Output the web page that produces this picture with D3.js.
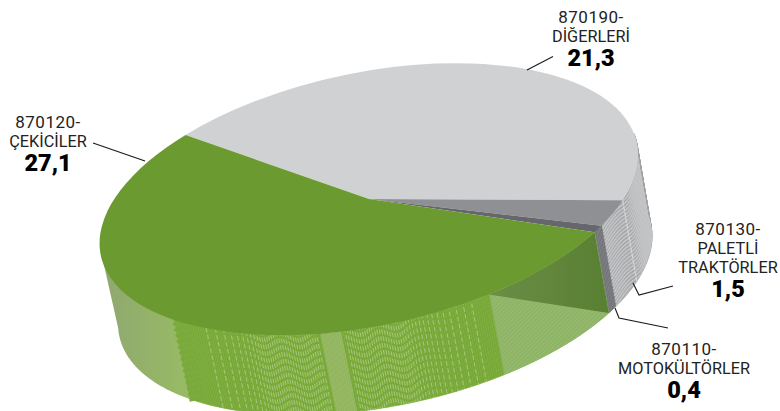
<!DOCTYPE html>
<html lang="tr">
<head>
<meta charset="utf-8">
<title>Traktör ihracatı</title>
<script src="https://cdn.jsdelivr.net/npm/d3@7/dist/d3.min.js"></script>
<style>
  html, body { margin: 0; background: #fff; }
  svg { display: block; }
  text { font-family: Roboto, sans-serif; text-anchor: middle; }
  .code { font-size: 17px; font-weight: 400; fill: #222; letter-spacing: 0.5px; }
  .name { font-size: 16.3px; font-weight: 400; fill: #222; }
  .value { font-size: 23.5px; font-weight: 900; fill: #000; }
</style>
</head>
<body>
<svg id="chart" width="780" height="411" viewBox="0 0 780 411"></svg>
<script>
// Slice order runs clockwise from the grey/green boundary at the back of the disc.
const codes = ["870190-", "870130-", "870110-", "870120-"];
const names = [["DİĞERLERİ"], ["PALETLİ", "TRAKTÖRLER"], ["MOTOKÜLTÖRLER"], ["ÇEKİCİLER"]];
const values = [21.3, 1.5, 0.4, 27.1];
const valueLabels = ["21,3", "1,5", "0,4", "27,1"];
const topColors = ["#d0d1d3", "#8f9094", "#66676c", "#6b9b30"];

// Projection of the unit disc onto the tilted top face.
const disc = { a: 269, b: -44, d: 128.6, cx: 369, cy: 199 };
const drop = { x: 16, y: 81, shrink: 0.9926 };
const startAngle = -43 * Math.PI / 180;

const svg = d3.select("#chart");
const defs = svg.append("defs");

const arcs = d3.pie().sort(null).startAngle(startAngle).endAngle(startAngle + 2 * Math.PI)(values);

// a is in d3.arc convention: 0 at twelve o'clock, growing clockwise.
const topPoint = a => {
  const u = Math.sin(a), v = -Math.cos(a);
  return [disc.cx + disc.a * u, disc.cy + disc.b * u + disc.d * v];
};
const bottomPoint = a => {
  const u = Math.sin(a) * drop.shrink, v = -Math.cos(a) * drop.shrink;
  return [disc.cx + drop.x + disc.a * u, disc.cy + drop.y + disc.b * u + disc.d * v];
};
const wallPoint = (a, t) => {
  const p = topPoint(a), q = bottomPoint(a);
  return [p[0] + (q[0] - p[0]) * t, p[1] + (q[1] - p[1]) * t];
};
// Angle on the front half of the rim that sits above a given x.
const frontAngle = x => {
  const u = (x - disc.cx) / disc.a;
  return Math.PI - Math.asin(Math.max(-1, Math.min(1, u)));
};

function greenWallColor(x) {
  if (x < 320) return "#78a938";
  if (x < 342) return "#93b660";
  if (x < 490) return "#78a938";
  return "#8db363";
}

const walls = svg.append("g");
const step = Math.PI / 360;

// Only the front of the wall is visible; the rear part would overlap it.
const frontFrom = 80 * Math.PI / 180;
const frontTo = 268 * Math.PI / 180;
const leftBandEnd = frontAngle(172);

function wallStrip(a0, a1, color) {
  const pts = [topPoint(a0), topPoint(a1), bottomPoint(a1), bottomPoint(a0)];
  walls.append("path")
    .attr("d", d3.line()(pts) + "Z")
    .attr("fill", color).attr("stroke", color).attr("stroke-width", 0.6);
}

// Side wall, built from narrow strips so its shade can follow the rim.
arcs.forEach((s, i) => {
  const from = Math.max(s.startAngle, frontFrom);
  const to = i === 3 ? leftBandEnd : s.endAngle;
  for (let a = from; a < to; a += step) {
    const next = Math.min(a + step, to);
    const x = topPoint(a)[0];
    let color;
    if (i === 3) color = greenWallColor(x);
    else if (i === 2) color = "#75767b";
    else color = "#a2a3a6";
    wallStrip(a, next, color);
  }
});

// Smooth fade across the far-left stretch of the green wall.
const fade = defs.append("linearGradient").attr("id", "fade")
  .attr("gradientUnits", "userSpaceOnUse")
  .attr("x1", 100).attr("x2", 185).attr("y1", 0).attr("y2", 0);
fade.append("stop").attr("offset", 0).attr("stop-color", "#8fa673");
fade.append("stop").attr("offset", 0.35).attr("stop-color", "#92ae6c");
fade.append("stop").attr("offset", 1).attr("stop-color", "#98ba65");
const fadePoints = [];
for (let a = leftBandEnd - step; a <= frontTo; a += step) fadePoints.push(topPoint(a));
for (let a = frontTo; a >= leftBandEnd - step; a -= step) fadePoints.push(bottomPoint(a));
svg.append("path").attr("d", d3.line()(fadePoints) + "Z").attr("fill", "url(#fade)");

// Fine diagonal hatch on the lit part of the green wall.
const hatch = defs.append("pattern").attr("id", "hatch")
  .attr("width", 3).attr("height", 3).attr("patternUnits", "userSpaceOnUse")
  .attr("patternTransform", "rotate(45)");
hatch.append("rect").attr("width", 3).attr("height", 3).attr("fill", "#8db363");
hatch.append("rect").attr("width", 1.2).attr("height", 3).attr("fill", "#97bb72");

const greenArc = arcs[3];
const tip = greenArc.startAngle;
const litEnd = frontAngle(490);
const litPoints = [];
for (let a = tip; a <= litEnd; a += step) litPoints.push(topPoint(a));
for (let a = litEnd; a >= tip; a -= step) litPoints.push(bottomPoint(a));
svg.append("path").attr("d", d3.line()(litPoints) + "Z").attr("fill", "url(#hatch)");

// Dashed ribs on the green wall, packed tighter toward the middle.
const ribs = svg.append("g").attr("fill", "none").attr("stroke", "#abc981").attr("stroke-width", 0.9);
function rib(x, offset) {
  const a = frontAngle(x);
  ribs.append("path")
    .attr("d", d3.line()([topPoint(a), bottomPoint(a)]))
    .attr("stroke-dasharray", "4.5 2.5")
    .attr("stroke-dashoffset", offset);
}
let ribIndex = 0;
for (let x = 206; x < 318; ) {
  rib(x, 3.5 * Math.sin(ribIndex * 0.42));
  x += Math.max(2.4, 9.5 - (x - 206) * 0.14);
  ribIndex++;
}
for (let x = 345; x < 472; ) {
  rib(x, 3.5 * Math.sin(ribIndex * 0.42));
  x += Math.max(2.4, 2.4 + Math.max(0, x - 400) * 0.09);
  ribIndex++;
}

// Short band of broad cross stripes at the left end of the ribs.
const bandAngle = frontAngle(180);
svg.append("path")
  .attr("d", d3.line()([topPoint(bandAngle), bottomPoint(bandAngle)]))
  .attr("fill", "none").attr("stroke", "#7aa93d").attr("stroke-width", 15)
  .attr("stroke-dasharray", "2.6 3.4");

// Wavy texture on the grey wall.
const greyStart = frontFrom;
const greyEnd = arcs[1].endAngle;
const greyClip = [];
for (let a = greyStart; a <= greyEnd; a += step) greyClip.push(topPoint(a));
greyClip.push(topPoint(greyEnd));
for (let a = greyEnd; a >= greyStart; a -= step) greyClip.push(bottomPoint(a));
defs.append("clipPath").attr("id", "greyWall")
  .append("path").attr("d", d3.line()(greyClip) + "Z");

const waves = svg.append("g").attr("clip-path", "url(#greyWall)")
  .attr("fill", "none").attr("stroke", "#c3c4c6").attr("stroke-width", 1.6);
const waveLine = d3.line().curve(d3.curveBasis);
for (let k = -3; k < 28; k++) {
  const pts = [];
  for (let a = greyStart; a <= greyEnd; a += step) {
    const p = wallPoint(a, k / 24);
    pts.push([p[0], p[1] + 4 * Math.sin(a * 18)]);
  }
  waves.append("path").attr("d", waveLine(pts));
}

// Shadow thrown across the green wall next to the dark slice.
const shadowEnd = frontAngle(487);
const shadowPoints = [];
for (let a = tip; a <= shadowEnd; a += step) shadowPoints.push(topPoint(a));
shadowPoints.push(bottomPoint(tip));
const shade = defs.append("linearGradient").attr("id", "shade")
  .attr("gradientUnits", "userSpaceOnUse")
  .attr("x1", 487).attr("x2", 609).attr("y1", 0).attr("y2", 0);
shade.append("stop").attr("offset", 0).attr("stop-color", "#6c8e47");
shade.append("stop").attr("offset", 1).attr("stop-color", "#587f32");
svg.append("path").attr("d", d3.line()(shadowPoints) + "Z").attr("fill", "url(#shade)");

// Pale seam between the grey slice and the next one.
const seam = arcs[0].endAngle;
svg.append("path")
  .attr("d", d3.line()([topPoint(seam), bottomPoint(seam)]))
  .attr("stroke", "#d6d7d8").attr("stroke-width", 1.2).attr("stroke-dasharray", "5 1");

// Top face.
const arc = d3.arc().innerRadius(0).outerRadius(1);
svg.append("g")
  .attr("transform", `matrix(${disc.a},${disc.b},0,${disc.d},${disc.cx},${disc.cy})`)
  .selectAll("path").data(arcs).join("path")
  .attr("d", arc).attr("fill", (d, i) => topColors[i]);

// Leader lines.
const leaders = [
  [[527, 70], [553, 56.5]],
  [[633, 283], [639, 295], [673, 286]],
  [[615, 308], [619, 318], [668, 328]],
  [[93, 143], [145, 161]]
];
svg.append("g").attr("fill", "none").attr("stroke", "#1a1a1a").attr("stroke-width", 1.1)
  .selectAll("path").data(leaders).join("path").attr("d", d3.line());

// Labels: code line, name lines, then the value in heavy type.
const labelPlacement = [
  { x: 591, y: 23 },
  { x: 728, y: 235 },
  { x: 684, y: 355 },
  { x: 48, y: 128 }
];
codes.forEach((code, i) => {
  const { x, y } = labelPlacement[i];
  const g = svg.append("g");
  let line = y;
  g.append("text").attr("class", "code").attr("x", x).attr("y", line).text(code);
  names[i].forEach(n => {
    line += 19;
    g.append("text").attr("class", "name").attr("x", x).attr("y", line).text(n);
  });
  line += 24;
  g.append("text").attr("class", "value").attr("x", x).attr("y", line).text(valueLabels[i]);
});
</script>
</body>
</html>
